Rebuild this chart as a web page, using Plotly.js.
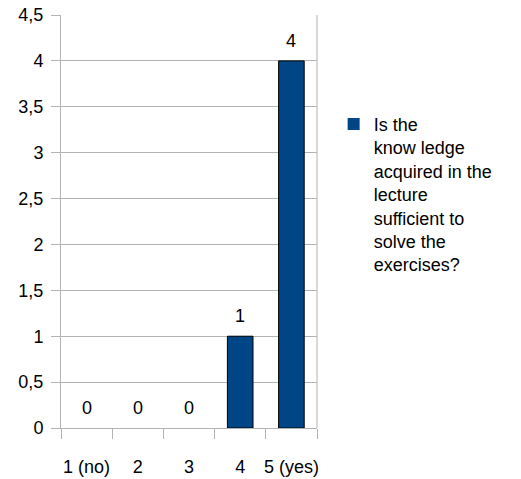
<!DOCTYPE html>
<html><head><meta charset="utf-8">
<script src="https://cdn.plot.ly/plotly-3.0.1.min.js"></script>
<style>html,body{margin:0;padding:0;background:#fff}#c{width:521px;height:479px}</style>
</head><body><div id="c"></div>
<script>
const categories = ["1 (no)", "2", "3", "4", "5 (yes)"];
const values = [0, 0, 0, 1, 4];
const seriesName = "Is the<br>know ledge<br>acquired in the<br>lecture<br>sufficient to<br>solve the<br>exercises?";
const yTickVals = [0, 0.5, 1, 1.5, 2, 2.5, 3, 3.5, 4, 4.5];
const yTickText = ["0", "0,5", "1", "1,5", "2", "2,5", "3", "3,5", "4", "4,5"];

const font = {family: "Liberation Sans, Arial, sans-serif", size: 18, color: "#000"};

const trace = {
  type: "bar", x: categories, y: values, name: seriesName,
  marker: {color: "#004586", line: {color: "#000", width: values.map(v => v > 0 ? 1 : 0)}},
  width: 0.5, showlegend: true, hoverinfo: "none"
};

const annotations = categories.map((c, i) => ({
  x: i, y: values[i], xref: "x", yref: "y", text: String(values[i]),
  showarrow: false, yanchor: "bottom", yshift: 8, font: font
}));

const layout = {
  width: 521, height: 479,
  margin: {l: 61, r: 204, t: 15, b: 51},
  paper_bgcolor: "#fff", plot_bgcolor: "#fff",
  font: font,
  xaxis: {
    type: "category", tickson: "boundaries", ticks: "outside", ticklen: 10,
    tickcolor: "#b3b3b3", showline: true, linecolor: "#b3b3b3", linewidth: 1,
    showgrid: false, tickfont: font, tickangle: 0, ticklabelstandoff: 22, fixedrange: true
  },
  yaxis: {
    range: [0, 4.5], tickvals: yTickVals, ticktext: yTickText,
    ticks: "outside", ticklen: 9, tickcolor: "#b3b3b3",
    showline: true, linecolor: "#b3b3b3", mirror: false,
    gridcolor: "#b3b3b3", zeroline: false, tickfont: font, ticklabelstandoff: 4, fixedrange: true
  },
  shapes: [{type: "line", xref: "paper", yref: "paper", x0: 1, x1: 1, y0: 0, y1: 1,
            line: {color: "#b3b3b3", width: 1}}],
  legend: {x: 1.065, y: 0.78, xanchor: "left", yanchor: "top", font: font, valign: "top",
           bgcolor: "rgba(0,0,0,0)", itemwidth: 30},
  annotations: annotations
};

Plotly.newPlot("c", [trace], layout, {displayModeBar: false, staticPlot: true});
</script></body></html>
